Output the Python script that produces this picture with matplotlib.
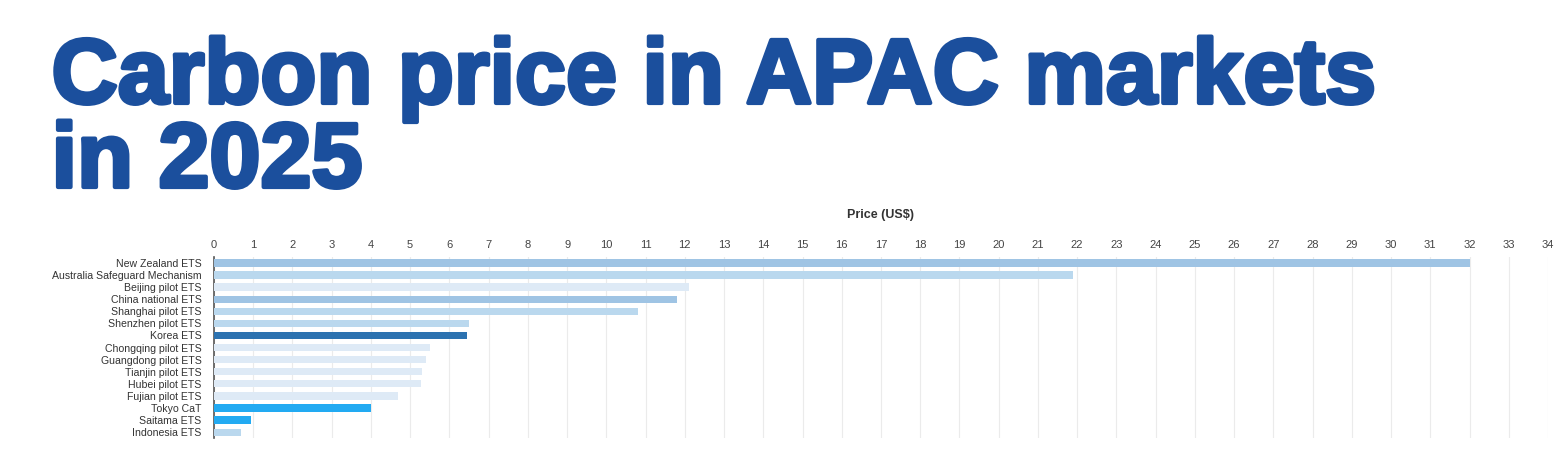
import matplotlib.pyplot as plt
import matplotlib.patheffects as pe

# data
markets = [
    "New Zealand ETS", "Australia Safeguard Mechanism", "Beijing pilot ETS",
    "China national ETS", "Shanghai pilot ETS", "Shenzhen pilot ETS",
    "Korea ETS", "Chongqing pilot ETS", "Guangdong pilot ETS",
    "Tianjin pilot ETS", "Hubei pilot ETS", "Fujian pilot ETS",
    "Tokyo CaT", "Saitama ETS", "Indonesia ETS",
]
prices = [32.0, 21.9, 12.1, 11.8, 10.8, 6.5, 6.45, 5.5, 5.4, 5.3, 5.27, 4.7, 4.0, 0.95, 0.7]
bar_colors = [
    "#9fc4e4", "#bad8ee", "#deeaf6", "#9fc4e4", "#bad8ee", "#bad8ee",
    "#2c72b0", "#deeaf6", "#deeaf6", "#deeaf6", "#deeaf6", "#deeaf6",
    "#22aaf2", "#22aaf2", "#bad8ee",
]
x_ticks = list(range(0, 35))
title_lines = ["Carbon price in APAC markets", "in 2025"]

plt.rcParams["font.family"] = ["Liberation Sans", "DejaVu Sans"]

fig = plt.figure(figsize=(15.63, 4.49), dpi=100)
# heavy title: bold face plus a thin stroke in the same colour
for line, y in zip(title_lines, [0.7706, 0.5835]):
    fig.text(0.033, y, line, fontsize=66, fontweight="bold", color="#1b4f9d",
             ha="left", va="baseline",
             path_effects=[pe.withStroke(linewidth=3, foreground="#1b4f9d")])

ax = fig.add_axes([0.1369, 0.024, 0.8535, 0.404])
ypos = list(range(len(markets)))
ax.barh(ypos, prices, height=0.6, color=bar_colors, zorder=3)
ax.set_ylim(len(markets) - 0.5, -0.5)
ax.set_xlim(0, 34)
ax.set_yticks(ypos)
ax.set_yticklabels(markets, fontsize=7.6, color="#333333")
ax.set_xticks(x_ticks)
ax.xaxis.tick_top()
ax.xaxis.set_label_position("top")
ax.tick_params(axis="x", labelsize=8, labelcolor="#444444", length=0, pad=5)
ax.tick_params(axis="y", length=0, pad=9)
ax.set_xlabel("Price (US$)", fontsize=9, fontweight="bold", color="#333333",
              labelpad=16)
ax.grid(axis="x", color="#ebebeb", linewidth=0.8, zorder=0)
for side in ["top", "right", "bottom"]:
    ax.spines[side].set_visible(False)
ax.spines["left"].set_color("#555555")
ax.spines["left"].set_linewidth(1.2)

fig.savefig("out.png", dpi=100)
